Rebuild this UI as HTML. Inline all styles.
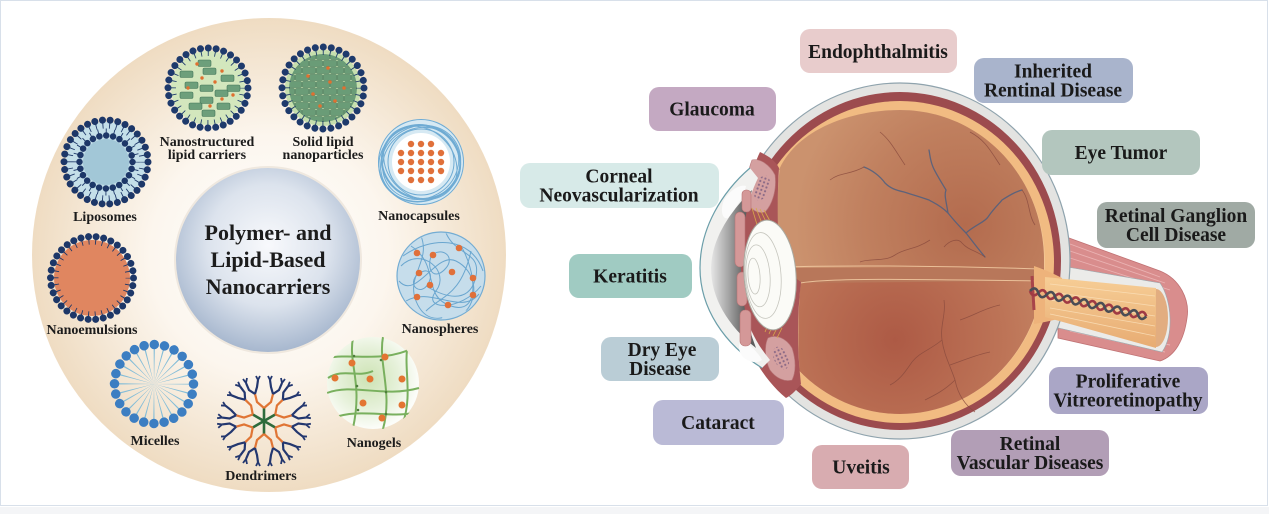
<!DOCTYPE html>
<html><head><meta charset="utf-8"><style>
html,body{margin:0;padding:0;background:#fff;}
svg{display:block;}
.lb{font-family:"Liberation Serif",serif;font-weight:bold;font-size:14px;fill:#1c1c1c;text-anchor:middle;}
.bx{font-family:"Liberation Serif",serif;font-weight:bold;font-size:19.5px;fill:#1a1a1a;text-anchor:middle;}
</style></head><body>
<svg width="1269" height="514" viewBox="0 0 1269 514" xmlns="http://www.w3.org/2000/svg">
<defs>
<radialGradient id="bg" cx="0.5" cy="0.5" r="0.5"><stop offset="0" stop-color="#ffffff"/><stop offset="0.5" stop-color="#fcf6ee"/><stop offset="1" stop-color="#efdcc2"/></radialGradient>
<radialGradient id="cg" cx="0.5" cy="0.42" r="0.6"><stop offset="0" stop-color="#f8f9fc"/><stop offset="0.55" stop-color="#dce3ed"/><stop offset="1" stop-color="#a3b4cc"/></radialGradient>
<radialGradient id="ng" cx="0.45" cy="0.45" r="0.55"><stop offset="0" stop-color="#cde3b4"/><stop offset="0.6" stop-color="#e6f1da"/><stop offset="1" stop-color="#fcfdf9"/></radialGradient>
<pattern id="brick" patternUnits="userSpaceOnUse" width="14" height="14"><rect x="0.5" y="0.5" width="13" height="6" rx="1.2" fill="#6a9c77" stroke="#3e7154" stroke-width="0.6"/><rect x="-6.5" y="7.5" width="13" height="6" rx="1.2" fill="#6a9c77" stroke="#3e7154" stroke-width="0.6"/><rect x="7.5" y="7.5" width="13" height="6" rx="1.2" fill="#6a9c77" stroke="#3e7154" stroke-width="0.6"/></pattern>
<pattern id="dots" patternUnits="userSpaceOnUse" width="4" height="4"><circle cx="2" cy="2" r="1.1" fill="#8c6a86"/></pattern>
<clipPath id="c33"><circle r="34"/></clipPath>
<clipPath id="c43"><circle r="43"/></clipPath>
<clipPath id="c47"><circle r="47"/></clipPath>
<radialGradient id="vit" gradientUnits="userSpaceOnUse" cx="895" cy="340" r="200"><stop offset="0" stop-color="#ad5a45"/><stop offset="0.55" stop-color="#bd7457"/><stop offset="1" stop-color="#ca906d"/></radialGradient>
<radialGradient id="vitu" gradientUnits="userSpaceOnUse" cx="965" cy="225" r="170"><stop offset="0" stop-color="#b36b4e"/><stop offset="0.6" stop-color="#c0805f"/><stop offset="1" stop-color="#cb926e"/></radialGradient>
<linearGradient id="ac" gradientUnits="userSpaceOnUse" x1="711" y1="0" x2="746" y2="0"><stop offset="0" stop-color="#e6e6e6"/><stop offset="0.5" stop-color="#a5a5a5"/><stop offset="1" stop-color="#5c5c5c"/></linearGradient>
<linearGradient id="core" gradientUnits="userSpaceOnUse" x1="0" y1="280" x2="0" y2="345"><stop offset="0" stop-color="#f6cc94"/><stop offset="1" stop-color="#e8ad74"/></linearGradient>
<g id="br">
<path d="M0,0 L0,-13" stroke="#2e6b3c" stroke-width="2.6" fill="none"/>
<path d="M0,-13 L-7,-19 L-9,-27 M0,-13 L7,-19 L9,-27" stroke="#e07535" stroke-width="2.2" fill="none"/>
<path d="M-9,-27 L-15,-31 L-18,-38 M-9,-27 L-7,-34 L-6,-41 M9,-27 L7,-34 L6,-41 M9,-27 L15,-31 L18,-38" stroke="#23376f" stroke-width="2.2" fill="none"/>
<path d="M-18,-38 L-21,-42 M-18,-38 L-17,-43 M-6,-41 L-8,-45 M-6,-41 L-4,-45 M6,-41 L4,-45 M6,-41 L8,-45 M18,-38 L17,-43 M18,-38 L21,-42" stroke="#23376f" stroke-width="1.8" fill="none"/>
</g>
</defs>

<rect x="0.5" y="0.5" width="1267" height="505" fill="#fff" stroke="#d8e0ea" stroke-width="1"/>
<rect x="0" y="507" width="1269" height="7" fill="#f4f5f7"/>

<!-- LEFT big circle -->
<circle cx="269" cy="255" r="237" fill="url(#bg)"/>
<circle cx="268" cy="260" r="94" fill="#e2d8cc" opacity="0.5"/>
<circle cx="268" cy="260" r="92" fill="url(#cg)"/>
<text class="lb" style="font-size:22px" x="268" y="240">Polymer- and</text>
<text class="lb" style="font-size:22px" x="268" y="267">Lipid-Based</text>
<text class="lb" style="font-size:22px" x="268" y="294">Nanocarriers</text>

<!-- NLC -->
<g transform="translate(208,88)">
<circle r="37" fill="#d3e7bd"/>
<g fill="#6d9f7b" stroke="#44765a" stroke-width="0.6">
<rect x="-10" y="-28" width="13" height="6.5" rx="1.5"/><rect x="-5" y="-20" width="13" height="6.5" rx="1.5"/>
<rect x="-28" y="-17" width="13" height="6.5" rx="1.5"/><rect x="13" y="-13" width="13" height="6.5" rx="1.5"/>
<rect x="-23" y="-6" width="13" height="6.5" rx="1.5"/><rect x="-8" y="-3" width="13" height="6.5" rx="1.5"/>
<rect x="19" y="-3" width="13" height="6.5" rx="1.5"/><rect x="-28" y="4" width="13" height="6.5" rx="1.5"/>
<rect x="7" y="2" width="13" height="6.5" rx="1.5"/><rect x="-8" y="9" width="13" height="6.5" rx="1.5"/>
<rect x="-19" y="15" width="13" height="6.5" rx="1.5"/><rect x="9" y="15" width="13" height="6.5" rx="1.5"/>
<rect x="-6" y="22" width="13" height="6.5" rx="1.5"/>
</g>
<g fill="#e07030"><circle cx="-11" cy="-24" r="1.7"/><circle cx="-6" cy="-10" r="1.7"/><circle cx="14" cy="-17" r="1.7"/><circle cx="-20" cy="0" r="1.7"/><circle cx="7" cy="-6" r="1.7"/><circle cx="25" cy="7" r="1.7"/><circle cx="14" cy="11" r="1.7"/><circle cx="2" cy="18" r="1.7"/></g>
<circle r="34.5" fill="none" stroke="#1e3a6c" stroke-width="5" stroke-dasharray="0.9 5.874" stroke-dashoffset="0.45"/>
<circle r="40" fill="none" stroke="#1e3a6c" stroke-width="7" stroke-linecap="round" stroke-dasharray="0.01 7.844"/>
</g>
<text class="lb" x="207" y="146">Nanostructured</text>
<text class="lb" x="207" y="159">lipid carriers</text>

<!-- SLN -->
<g transform="translate(323,88)">
<circle r="38" fill="#c6dfae"/>
<circle r="34" fill="url(#brick)" clip-path="url(#c33)"/>
<g fill="#e07030"><circle cx="5" cy="-20" r="1.8"/><circle cx="-15" cy="-12" r="1.8"/><circle cx="7" cy="-6" r="1.8"/><circle cx="21" cy="0" r="1.8"/><circle cx="-10" cy="6" r="1.8"/><circle cx="12" cy="13" r="1.8"/><circle cx="-3" cy="18" r="1.8"/></g>
<circle r="35.5" fill="none" stroke="#1e3a6c" stroke-width="5" stroke-dasharray="0.9 6.07" stroke-dashoffset="0.45"/>
<circle r="41" fill="none" stroke="#1e3a6c" stroke-width="7" stroke-linecap="round" stroke-dasharray="0.01 8.04"/>
</g>
<text class="lb" x="323" y="146">Solid lipid</text>
<text class="lb" x="323" y="159">nanoparticles</text>

<!-- Liposome -->
<g transform="translate(106,162)">
<circle r="40" fill="#c4dfe9"/>
<circle r="23" fill="#a2c7d7"/>
<circle r="36.5" fill="none" stroke="#1d3768" stroke-width="6" stroke-dasharray="0.9 5.845" stroke-dashoffset="0.45"/>
<circle r="31" fill="none" stroke="#1d3768" stroke-width="5" stroke-dasharray="0.9 7.216" stroke-dashoffset="0.45"/>
<circle r="42" fill="none" stroke="#1d3768" stroke-width="7" stroke-linecap="round" stroke-dasharray="0.01 7.751"/>
<circle r="26.5" fill="none" stroke="#1d3768" stroke-width="6.5" stroke-linecap="round" stroke-dasharray="0.01 6.928"/>
</g>
<text class="lb" x="105" y="221">Liposomes</text>

<!-- Nanocapsules -->
<g transform="translate(421,162)">
<circle r="43" fill="#d6e9f3"/>
<g fill="none" stroke="#6fabd3" stroke-width="1">
<ellipse rx="40" ry="36" transform="rotate(20)"/><ellipse rx="38" ry="41" transform="rotate(70) translate(1,2)"/>
<ellipse rx="41" ry="37" transform="rotate(-30) translate(-1,1)"/><ellipse rx="37" ry="40" transform="rotate(110)"/>
<ellipse rx="39" ry="35" transform="rotate(150) translate(1,-1)"/><ellipse rx="36" ry="39" transform="rotate(-70)"/>
<circle r="42.5"/><circle r="33"/><ellipse rx="40" ry="33" transform="rotate(45) translate(0,1)"/>
</g>
<circle r="29" fill="#ffffff"/>
<g fill="#e0703a">
<circle cx="-10" cy="-18" r="3.2"/><circle cx="0" cy="-18" r="3.2"/><circle cx="10" cy="-18" r="3.2"/>
<circle cx="-20" cy="-9" r="3.2"/><circle cx="-10" cy="-9" r="3.2"/><circle cx="0" cy="-9" r="3.2"/><circle cx="10" cy="-9" r="3.2"/><circle cx="20" cy="-9" r="3.2"/>
<circle cx="-20" cy="0" r="3.2"/><circle cx="-10" cy="0" r="3.2"/><circle cx="0" cy="0" r="3.2"/><circle cx="10" cy="0" r="3.2"/><circle cx="20" cy="0" r="3.2"/>
<circle cx="-20" cy="9" r="3.2"/><circle cx="-10" cy="9" r="3.2"/><circle cx="0" cy="9" r="3.2"/><circle cx="10" cy="9" r="3.2"/><circle cx="20" cy="9" r="3.2"/>
<circle cx="-10" cy="18" r="3.2"/><circle cx="0" cy="18" r="3.2"/><circle cx="10" cy="18" r="3.2"/>
</g>
</g>
<text class="lb" x="419" y="220">Nanocapsules</text>

<!-- Nanoemulsion -->
<g transform="translate(92,278)">
<circle r="38" fill="#e08660"/>
<circle r="36" fill="none" stroke="#1d3768" stroke-width="5" stroke-dasharray="0.9 5.753" stroke-dashoffset="0.45"/>
<circle r="41.5" fill="none" stroke="#1d3768" stroke-width="7" stroke-linecap="round" stroke-dasharray="0.01 7.659"/>
</g>
<text class="lb" x="92" y="334">Nanoemulsions</text>

<!-- Nanospheres -->
<g transform="translate(441,276)">
<circle r="44" fill="#c6ddeb" stroke="#73acd3" stroke-width="1.2"/>
<g clip-path="url(#c43)" fill="none" stroke="#6aa6cf" stroke-width="1">
<path d="M-40,-10 C-20,-30 10,-5 -5,15 S20,35 40,10"/>
<path d="M-30,-30 C0,-10 -20,20 10,30 S35,-5 20,-30"/>
<path d="M-42,5 C-25,25 -5,-25 15,-15 S38,20 25,35"/>
<path d="M-20,-40 C-10,-15 -35,0 -25,25 S5,40 0,42"/>
<path d="M5,-43 C15,-20 40,-25 35,0 S10,25 -15,10"/>
<path d="M-38,-20 C-10,-40 30,-40 42,-5"/>
<path d="M-35,25 C-10,10 20,40 38,18"/>
<path d="M-10,-20 c10,-10 25,0 15,12 s-20,5 -15,-12"/>
<path d="M-25,0 c-8,10 5,20 12,8 s-2,-18 -12,-8"/>
<path d="M-15,35 C0,20 20,20 30,-25"/>
</g>
<g fill="#e0703a"><circle cx="-24" cy="-23" r="3.3"/><circle cx="-8" cy="-21" r="3.3"/><circle cx="18" cy="-28" r="3.3"/><circle cx="-22" cy="-3" r="3.3"/><circle cx="11" cy="-4" r="3.3"/><circle cx="32" cy="2" r="3.3"/><circle cx="-11" cy="9" r="3.3"/><circle cx="-24" cy="21" r="3.3"/><circle cx="7" cy="29" r="3.3"/><circle cx="32" cy="19" r="3.3"/></g>
</g>
<text class="lb" x="440" y="333">Nanospheres</text>

<!-- Micelles -->
<g transform="translate(154,384)">
<circle r="19" fill="none" stroke="#84bdd8" stroke-width="38" stroke-dasharray="0.7 4.274" stroke-dashoffset="0.35"/>
<circle r="39.5" fill="none" stroke="#3c7ec2" stroke-width="9.5" stroke-linecap="round" stroke-dasharray="0.01 10.331"/>
</g>
<text class="lb" x="155" y="445">Micelles</text>

<!-- Dendrimers -->
<g transform="translate(264,421)">
<use href="#br"/><use href="#br" transform="rotate(60)"/><use href="#br" transform="rotate(120)"/>
<use href="#br" transform="rotate(180)"/><use href="#br" transform="rotate(240)"/><use href="#br" transform="rotate(300)"/>
</g>
<text class="lb" x="261" y="480">Dendrimers</text>

<!-- Nanogels -->
<g transform="translate(373,383)">
<circle r="46" fill="url(#ng)"/>
<g clip-path="url(#c47)" fill="none" stroke="#79b05e" stroke-width="2">
<path d="M-46,-25 C-20,-30 10,-20 40,-35"/>
<path d="M-46,10 C-20,0 10,15 46,5"/>
<path d="M-40,35 C-15,25 15,35 40,30"/>
<path d="M-20,-45 C-25,-20 -10,0 -20,45"/>
<path d="M10,-46 C5,-20 20,10 10,46"/>
<path d="M35,-40 C30,-15 40,10 30,40"/>
<path d="M-45,-5 C-30,-15 -15,-5 0,-12"/>
</g>
<g fill="#4f7d3c"><circle cx="-19" cy="-27" r="1.3"/><circle cx="8" cy="-23" r="1.3"/><circle cx="-16" cy="3" r="1.3"/><circle cx="13" cy="9" r="1.3"/><circle cx="-15" cy="27" r="1.3"/><circle cx="13" cy="31" r="1.3"/></g>
<g fill="#e37532"><circle cx="-21" cy="-20" r="3.5"/><circle cx="12" cy="-26" r="3.5"/><circle cx="-38" cy="-5" r="3.5"/><circle cx="-3" cy="-4" r="3.5"/><circle cx="29" cy="-4" r="3.5"/><circle cx="-10" cy="20" r="3.5"/><circle cx="29" cy="22" r="3.5"/><circle cx="9" cy="35" r="3.5"/></g>
</g>
<text class="lb" x="374" y="447">Nanogels</text>

<!-- EYE -->
<path d="M1058,234 L1160,271 C1180,279 1190,300 1187,318 C1184,340 1175,356 1160,361 L1058,338 Z" fill="#d98d8d" stroke="#c07274" stroke-width="0.8"/>
<g stroke="#eab2b2" stroke-width="0.9" fill="none">
<path d="M1070,244 L1160,277"/><path d="M1070,251 L1165,283"/><path d="M1070,258 L1170,290"/>
<path d="M1070,331 L1165,352"/><path d="M1070,325 L1170,345"/>
</g>
<path d="M1050,264 L1160,283 C1172,300 1174,336 1162,352 L1050,326 Z" fill="#ebebe9" stroke="#9aa9ae" stroke-width="0.6"/>

<ellipse cx="900" cy="261" rx="170" ry="178" fill="#e3e3e1" stroke="#8fa3ad" stroke-width="1.2"/>
<ellipse cx="900" cy="261" rx="161" ry="169" fill="#9c4b4e"/>
<ellipse cx="900" cy="262" rx="154" ry="161" fill="#f1bb82"/>
<ellipse cx="900" cy="262" rx="145" ry="152" fill="#f6d1a6" opacity="0.5"/>
<ellipse cx="900" cy="263" rx="144" ry="151" fill="url(#vit)"/>
<path d="M778,172 C795,130 850,110 900,110 C980,110 1044,176 1044,261 L1044,268 L780,268 C778,240 776,200 778,172 Z" fill="url(#vitu)"/>
<path d="M780,268 L1044,268 L1044,281 L800,283 Z" fill="#b8775a"/>
<g fill="none" stroke="#f3cda4" stroke-width="1" opacity="0.85">
<path d="M780,267 C850,265 950,266 1040,269"/>
<path d="M800,283 C830,278 900,279 1040,281"/>
<path d="M779,170 C776,200 776,240 780,267"/>
<path d="M800,283 C797,320 797,350 800,384"/>
</g>

<g fill="none" stroke="#4e5f80" stroke-width="1.3" opacity="0.85" stroke-linecap="round">
<path d="M985,257 C975,245 970,238 966,233 C958,225 952,218 948,213 C940,205 932,202 929,200 C918,196 910,194 904,192 C895,190 890,188 885,183 C880,176 872,170 864,167"/>
<path d="M948,213 C946,200 944,195 946,190 C940,180 935,172 933,167 C930,160 930,155 929,150"/>
<path d="M966,233 C975,225 985,222 988,217 C995,207 1000,203 1002,200 C1010,195 1015,192 1022,190"/>
</g>
<g fill="none" stroke="#8a4b3e" stroke-width="0.8" opacity="0.8">
<path d="M944,247 C950,240 958,238 962,243 C968,250 975,250 985,257"/>
<path d="M930,240 C915,250 905,248 895,255 C885,262 870,258 860,262"/>
<path d="M905,165 C895,150 890,140 880,132"/>
<path d="M1000,165 C990,150 985,140 970,132"/>
<path d="M864,167 C850,175 840,172 830,180"/>
<path d="M1022,190 C1030,200 1028,215 1035,225"/>
<path d="M944,300 C946,315 940,325 942,340 C944,355 950,365 955,380 C958,395 965,405 975,412"/>
<path d="M942,340 C930,350 920,352 912,362"/>
<path d="M950,365 C965,360 975,355 990,352"/>
<path d="M955,380 C945,390 935,395 925,400"/>
<path d="M960,320 C975,315 985,308 1000,305"/>
<path d="M912,362 C905,372 900,380 890,385"/>
</g>

<path d="M1034,266 C1046,270 1054,274 1062,278 L1062,318 C1054,320 1046,322 1034,324 Z" fill="#eeb37b"/>
<path d="M1045,277 L1156,288 L1156,348 L1045,317 Z" fill="url(#core)"/>
<g stroke="#fbe2bd" stroke-width="0.8" opacity="0.8"><path d="M1050,284 L1155,296"/><path d="M1050,292 L1155,306"/><path d="M1050,300 L1155,316"/><path d="M1050,308 L1155,326"/><path d="M1050,314 L1155,336"/></g>
<path d="M1156,289 A12,29 0 0 1 1156,347 Z" fill="#e2ad80"/>
<path d="M1032,276 L1034,310" stroke="#a8444a" stroke-width="3" fill="none"/>
<g transform="translate(1030,291) rotate(12.3)" fill="none" stroke-width="2.6">
<path d="M0,0 Q4.25,7 8.5,0 T17,0 T25.5,0 T34,0 T42.5,0 T51,0 T59.5,0 T68,0 T76.5,0 T85,0 T93.5,0 T102,0 T110.5,0 T119,0" stroke="#a03a44"/>
<path d="M0,0 Q4.25,-7 8.5,0 T17,0 T25.5,0 T34,0 T42.5,0 T51,0 T59.5,0 T68,0 T76.5,0 T85,0 T93.5,0 T102,0 T110.5,0 T119,0" stroke="#4a4d55"/>
</g>

<path d="M760,152 C768,156 775,160 779,168 C777,200 777,240 781,268 L801,282 C797,315 797,350 801,384 C795,392 790,396 786,398 C770,385 756,365 748,345 C742,320 738,290 738,268 C738,240 742,210 748,185 C752,172 756,160 760,152 Z" fill="#a95558"/>
<path d="M752,160 C760,158 770,165 775,175 C777,190 772,205 765,212 C758,214 750,210 746,200 C746,185 748,170 752,160 Z" fill="#d4a0a0" stroke="#b97a7c" stroke-width="0.6"/>
<ellipse cx="762" cy="188" rx="7" ry="13" transform="rotate(20 762 188)" fill="url(#dots)"/>
<path d="M768,338 C776,334 786,338 792,348 C796,360 796,372 792,380 C784,382 776,378 770,370 C765,360 764,346 768,338 Z" fill="#d4a0a0" stroke="#b97a7c" stroke-width="0.6"/>
<ellipse cx="781" cy="358" rx="7" ry="12" transform="rotate(-25 781 358)" fill="url(#dots)"/>
<g stroke="#d8a84a" stroke-width="0.8"><path d="M752,208 L758,228 M756,208 L763,226 M760,209 L767,224 M764,210 L771,223"/><path d="M769,334 L774,322 M773,336 L778,326 M777,338 L782,328 M765,332 L770,320"/></g>

<path d="M750,168 C722,192 700,228 700,268 C700,308 724,344 762,368 L770,360 C745,330 740,300 740,268 C740,235 745,205 758,178 Z" fill="#f1f1ef"/>
<path d="M752,190 C730,212 712,238 711,268 C711,298 728,326 756,348 C746,322 741,296 741,268 C741,240 745,214 752,190 Z" fill="url(#ac)"/>
<path d="M750,168 C722,192 700,228 700,268 C700,308 724,344 762,368" fill="none" stroke="#6b9ea9" stroke-width="1.2"/>
<path d="M724,200 C730,190 740,184 746,186 C744,196 736,208 728,218 C722,220 720,210 724,200 Z" fill="#fbfbfb"/>
<path d="M742,340 C750,345 758,352 762,360 C756,364 748,362 742,356 C738,350 738,344 742,340 Z" fill="#fbfbfb"/>
<g fill="#d49898" stroke="#b77576" stroke-width="0.6">
<rect x="742" y="190" width="9" height="22" rx="4"/><rect x="735" y="212" width="10" height="55" rx="5"/>
<rect x="737" y="272" width="10" height="34" rx="5"/><rect x="740" y="310" width="11" height="36" rx="5"/>
</g>
<g transform="rotate(-4 770 275)">
<ellipse cx="770" cy="275" rx="26" ry="55" fill="#fbfbf7" stroke="#a9a9a0" stroke-width="1"/>
<g fill="none" stroke="#c6c6be" stroke-width="0.8"><ellipse cx="763" cy="275" rx="18" ry="43"/><ellipse cx="758" cy="275" rx="12" ry="31"/><ellipse cx="754" cy="275" rx="6" ry="18"/></g>
</g>

<!-- disease boxes -->
<g>
<rect x="800" y="29" width="157" height="44" rx="10" fill="#e8cccc"/>
<text class="bx" x="878" y="58">Endophthalmitis</text>
<rect x="974" y="58" width="159" height="45" rx="10" fill="#a9b4cc"/>
<text class="bx" x="1053" y="77.5">Inherited</text>
<text class="bx" x="1053" y="96.5">Rentinal Disease</text>
<rect x="649" y="87" width="127" height="44" rx="10" fill="#c4a9c2"/>
<text class="bx" x="712" y="115.5">Glaucoma</text>
<rect x="1042" y="130" width="158" height="45" rx="10" fill="#b3c6be"/>
<text class="bx" x="1121" y="159">Eye Tumor</text>
<rect x="520" y="163" width="199" height="45" rx="10" fill="#d7eae8"/>
<text class="bx" x="619" y="182.5">Corneal</text>
<text class="bx" x="619" y="201.5">Neovascularization</text>
<rect x="1097" y="202" width="158" height="46" rx="10" fill="#a0aaa4"/>
<text class="bx" x="1176" y="222">Retinal Ganglion</text>
<text class="bx" x="1176" y="241">Cell Disease</text>
<rect x="569" y="254" width="123" height="44" rx="10" fill="#a0cbc2"/>
<text class="bx" x="630" y="282.5">Keratitis</text>
<rect x="601" y="337" width="118" height="44" rx="10" fill="#bacdd6"/>
<text class="bx" x="662" y="356">Dry Eye</text>
<text class="bx" x="660" y="375">Disease</text>
<rect x="1049" y="367" width="159" height="47" rx="10" fill="#aaa6c6"/>
<text class="bx" x="1128" y="387.5">Proliferative</text>
<text class="bx" x="1128" y="406.5">Vitreoretinopathy</text>
<rect x="653" y="400" width="131" height="45" rx="10" fill="#babad6"/>
<text class="bx" x="718" y="429">Cataract</text>
<rect x="951" y="430" width="158" height="46" rx="10" fill="#b29eb6"/>
<text class="bx" x="1030" y="450">Retinal</text>
<text class="bx" x="1030" y="469">Vascular Diseases</text>
<rect x="812" y="445" width="97" height="44" rx="10" fill="#d8acb0"/>
<text class="bx" x="861" y="473.5">Uveitis</text>
</g>
</svg>
</body></html>
